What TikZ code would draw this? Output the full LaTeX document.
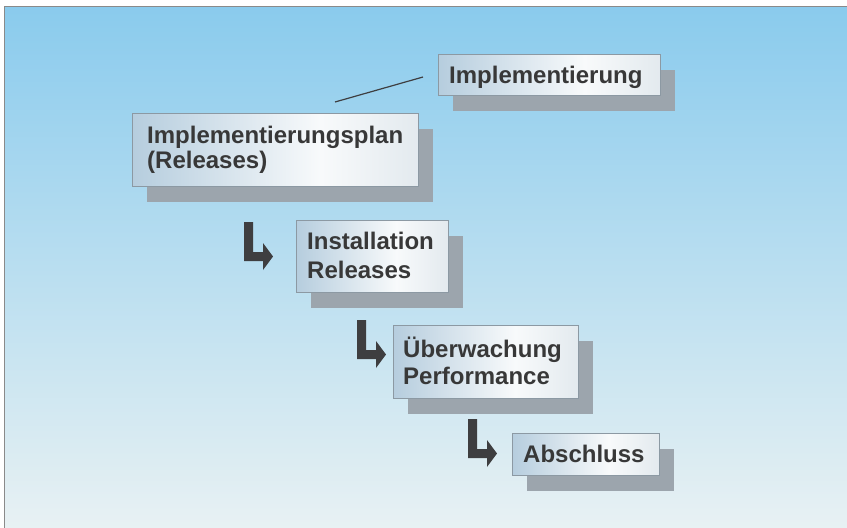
\documentclass[tikz,border=0pt]{standalone}
\usepackage{fontspec}
\setmainfont{Liberation Sans}
\usetikzlibrary{shadows}
\definecolor{bgtop}{HTML}{8ACBED}
\definecolor{bgmid}{HTML}{B8DDEE}
\definecolor{bgbot}{HTML}{E8F1F3}
\definecolor{framec}{HTML}{8A8A8A}
\definecolor{boxL}{HTML}{7FA8C6}
\definecolor{boxM}{HTML}{F8FAFB}
\definecolor{boxR}{HTML}{C4D2DC}
\definecolor{boxline}{HTML}{8C99A3}
\definecolor{shadowc}{HTML}{9CA5AD}
\definecolor{txtc}{HTML}{383838}
\definecolor{arrowc}{HTML}{3E3E40}
\pgfdeclarehorizontalshading{boxshade}{100bp}{color(0bp)=(boxL); color(25bp)=(boxL!55!boxM); color(58bp)=(boxM); color(100bp)=(boxR)}
\begin{document}
\begin{tikzpicture}[x=1pt,y=-1pt,
  panel/.style={draw=boxline, line width=0.8pt, shade, shading=boxshade,
    anchor=north west, inner sep=0pt, outer sep=0pt,
    drop shadow={shadow xshift=15pt, shadow yshift=-15.5pt, fill=shadowc, opacity=1}},
  lbl/.style={anchor=base west, inner sep=0pt, text=txtc, font=\bfseries\fontsize{24}{28}\selectfont},
  larrow/.pic={\fill[arrowc] (0,0) -- (9,0) -- (9,30) -- (19,30) -- (19,21) -- (29,34.5) -- (19,48) -- (19,39) -- (0,39) -- cycle;}
]
\useasboundingbox (0,0) rectangle (847,528);
\fill[white] (0,0) rectangle (847,528);
\shade[top color=bgtop, middle color=bgmid, bottom color=bgbot] (4.5,6.5) rectangle (847,528);
\draw[framec, line width=1pt] (4.5,528) -- (4.5,6.5) -- (847,6.5);

% boxes
\node[panel, minimum width=222pt, minimum height=41pt] (b1) at (438,54) {};
\node[panel, minimum width=286pt, minimum height=73pt] (b2) at (132,113) {};
\node[panel, minimum width=152pt, minimum height=72pt] (b3) at (296,220) {};
\node[panel, minimum width=185pt, minimum height=73pt] (b4) at (393,325) {};
\node[panel, minimum width=147pt, minimum height=42pt] (b5) at (512,433) {};

% texts
\node[lbl] (t1) at (449,83) {Implementierung};
\node[lbl] (t2a) at (147,143) {Implementierungsplan};
\node[lbl] (t2b) at (147,168) {(Releases)};
\node[lbl] (t3a) at (307,249) {Installation};
\node[lbl] (t3b) at (307,278) {Releases};
\node[lbl] (t4a) at (403,357) {Überwachung};
\node[lbl] (t4b) at (403,384) {Performance};
\node[lbl] (t5) at (523,462) {Abschluss};

% thin line
\coordinate (ls) at (335,102);
\coordinate (le) at (423,77);
\draw[arrowc, line width=1.2pt] (ls) -- (le);

% L-shaped arrows
\pic at (244,222) {larrow};
\pic at (357,320) {larrow};
\pic at (468,419) {larrow};
\end{tikzpicture}
\end{document}
